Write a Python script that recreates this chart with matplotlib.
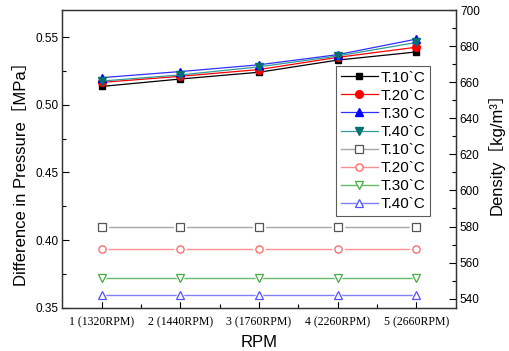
import matplotlib
matplotlib.use("Agg")
import matplotlib.pyplot as plt

x = [1, 2, 3, 4, 5]
xtick_labels = ["1 (1320RPM)", "2 (1440RPM)", "3 (1760RPM)", "4 (2260RPM)", "5 (2660RPM)"]

# Difference in pressure [MPa] (left axis, filled markers)
p_t10 = [0.5135, 0.519, 0.524, 0.533, 0.539]
p_t20 = [0.5165, 0.521, 0.526, 0.535, 0.5425]
p_t30 = [0.520, 0.5245, 0.5295, 0.537, 0.5485]
p_t40 = [0.5175, 0.522, 0.528, 0.536, 0.546]

# Density [kg/m3] (right axis, open markers)
d_t10 = [580, 580, 580, 580, 580]
d_t20 = [567.6, 567.6, 567.6, 567.6, 567.6]
d_t30 = [551.5, 551.5, 551.5, 551.5, 551.5]
d_t40 = [541.8, 541.8, 541.8, 541.8, 541.8]

labels = ["T.10`C", "T.20`C", "T.30`C", "T.40`C"]

plt.rcParams['font.family'] = ['Liberation Sans', 'DejaVu Sans']
CJK = ['Liberation Sans', 'Noto Sans CJK KR', 'DejaVu Sans']

fig = plt.figure(figsize=(5.09, 3.51), dpi=100)
ax = fig.add_axes([0.1224, 0.1234, 0.8953 - 0.1224, 0.9715 - 0.1234])
ax2 = ax.twinx()

filled = [
    (p_t10, 'black', 'black', 's', 5.0),
    (p_t20, 'red', 'red', 'o', 5.5),
    (p_t30, '#3030ff', 'blue', '^', 5.5),
    (p_t40, '#309a9a', '#007070', 'v', 5.5),
]
handles = []
for (vals, lc, mc, m, ms), lab in zip(filled, labels):
    h, = ax.plot(x, vals, color=lc, lw=0.9, marker=m, ms=ms,
                 mfc=mc, mec=mc, label=lab, zorder=3)
    handles.append(h)

opened = [
    (d_t10, '#a8a8a8', '#555555', 's'),
    (d_t20, '#ff9090', '#ff6060', 'o'),
    (d_t30, '#66bb66', '#44aa44', 'v'),
    (d_t40, '#8080ff', '#5050ff', '^'),
]
for (vals, lc, mc, m), lab in zip(opened, labels):
    ax2.plot(x, vals, color=lc, lw=1.0, zorder=2)
    ax2.plot(x, vals, ls='none', marker=m, ms=8, mfc='white', mec='white',
             zorder=3, label='_nolegend_')
    ax2.plot(x, vals, ls='none', marker=m, ms=5.2, mfc='white', mec=mc,
             mew=0.9, zorder=4)
    proxy, = ax2.plot([], [], color=lc, lw=1.0, marker=m, ms=5.2, mfc='white',
                      mec=mc, mew=0.9, label=lab)
    handles.append(proxy)

ax.set_xlim(0.5, 5.5)
ax.set_ylim(0.35, 0.57)
ax2.set_ylim(535, 700)

ax.set_xticks(x)
ax.set_xticklabels(xtick_labels, fontfamily='Liberation Serif', fontsize=7)
ax.set_xticks([1.5, 2.5, 3.5, 4.5], minor=True)
ax.set_yticks([0.35, 0.40, 0.45, 0.50, 0.55])
ax.set_yticklabels(["0.35", "0.40", "0.45", "0.50", "0.55"])
ax.set_yticks([0.375, 0.425, 0.475, 0.525], minor=True)
ax2.set_yticks([540, 560, 580, 600, 620, 640, 660, 680, 700])
ax2.set_yticks([550, 570, 590, 610, 630, 650, 670, 690], minor=True)

ax.tick_params(axis='both', which='major', direction='in', length=5, width=0.8, labelsize=8.5)
ax.tick_params(axis='both', which='minor', direction='in', length=3, width=0.8)
ax.tick_params(axis='x', which='major', pad=6)
ax.tick_params(axis='y', which='major', pad=3)
ax2.tick_params(axis='y', which='major', direction='in', length=5, width=0.8, labelsize=8.5, pad=3)
ax2.tick_params(axis='y', which='minor', direction='in', length=3, width=0.8)

for a in (ax, ax2):
    for s in a.spines.values():
        s.set_linewidth(0.9)
        s.set_color('#333333')

ax.set_xlabel("RPM", fontsize=12, labelpad=5)
ax.set_ylabel("Difference in Pressure［MPa］", fontsize=12, labelpad=4, family=CJK)
ax2.set_ylabel("Density［kg/m³］", fontsize=12, labelpad=6, family=CJK)
ax.yaxis.label.set_y(0.463)
ax2.yaxis.label.set_y(0.53)

leg = ax2.legend(handles=handles, loc='upper right', bbox_to_anchor=(0.935, 0.812),
                 fontsize=11, frameon=True, fancybox=False, edgecolor='#333333',
                 handlelength=2.4, handletextpad=0.2, borderpad=0.3,
                 labelspacing=0.27, borderaxespad=0)
leg.get_frame().set_linewidth(0.8)

fig.savefig("out.png", dpi=100)
